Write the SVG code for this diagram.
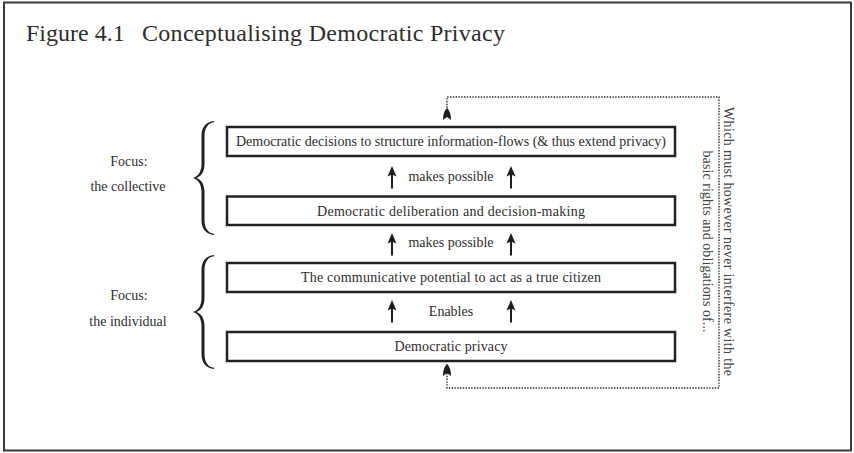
<svg xmlns="http://www.w3.org/2000/svg" xmlns:xlink="http://www.w3.org/1999/xlink" width="854" height="453" viewBox="0 0 854 453">
  <style>
    .frame { fill: #ffffff; stroke: #3a3a3a; stroke-width: 2; }
    .box { fill: #ffffff; stroke: #222222; stroke-width: 2.5; }
    .txt { font-family: "Liberation Serif", "Times New Roman", serif; fill: #2e2e2e; font-size: 14px; }
    .ctr { text-anchor: middle; }
    .title { font-family: "Liberation Serif", "Times New Roman", serif; fill: #2e2e2e; font-size: 24px; }
    .side { font-family: "Liberation Serif", "Times New Roman", serif; fill: #444444; font-size: 14px; text-anchor: middle; }
    .dotted { fill: none; stroke: #2a2a2a; stroke-width: 1.4; stroke-dasharray: 1.4 1.4; }
    .brace { fill: #222222; }
    .head { fill: #1e1e1e; }
    .shaft { stroke: #1e1e1e; stroke-width: 2; }
  </style>
  <defs>
    <!-- curly brace, opening left, spanning 121..235 -->
    <path id="brace" d="M214,121 C206,122 201.5,127 201.5,136 L201.5,164 C201.5,172 198,176.5 193,178 C198,179.5 201.5,184 201.5,192 L201.5,220 C201.5,229 206,234 214,235 L214,233.8 C208,233 204.5,228 204.5,220 L204.5,192 C204.5,184 201,179.5 196.5,178 C201,176.5 204.5,172 204.5,164 L204.5,136 C204.5,128 208,123 214,122.2 Z"/>
    <!-- solid upward arrow, tip at origin -->
    <g id="up">
      <line class="shaft" x1="0" y1="8" x2="0" y2="22.5"/>
      <path class="head" d="M0,0 L4.5,10.5 L0,8.5 L-4.5,10.5 Z"/>
    </g>
    <marker id="spire" viewBox="0 0 12 8" refX="12" refY="4" markerWidth="12" markerHeight="8" markerUnits="userSpaceOnUse" orient="auto">
      <path d="M12,4 C10,1.5 6,0 0,0 L3,4 L0,8 C6,8 10,6.5 12,4 Z" fill="#1e1e1e"/>
    </marker>
  </defs>

  <rect class="frame" x="4" y="2.5" width="847" height="448"/>

  <text class="title" x="26" y="41">Figure 4.1</text>
  <text class="title" x="142" y="41" textLength="363">Conceptualising Democratic Privacy</text>

  <!-- side groupings -->
  <g id="collective">
    <use xlink:href="#brace" href="#brace" class="brace"/>
    <text class="txt ctr" x="129" y="166">Focus:</text>
    <text class="txt ctr" x="128" y="191">the collective</text>
  </g>
  <g id="individual">
    <use xlink:href="#brace" href="#brace" class="brace" transform="translate(0,134)"/>
    <text class="txt ctr" x="129" y="300">Focus:</text>
    <text class="txt ctr" x="128" y="326">the individual</text>
  </g>

  <!-- stacked nodes -->
  <g id="decisions">
    <rect class="box" x="227" y="127" width="448" height="29"/>
    <text class="txt ctr" x="451" y="146" textLength="430">Democratic decisions to structure information-flows (&amp; thus extend privacy)</text>
  </g>
  <g id="deliberation">
    <rect class="box" x="227" y="196.5" width="448" height="28.5"/>
    <text class="txt ctr" x="451" y="215.5" textLength="268">Democratic deliberation and decision-making</text>
  </g>
  <g id="potential">
    <rect class="box" x="227" y="263" width="448" height="29"/>
    <text class="txt ctr" x="451" y="282" textLength="300">The communicative potential to act as a true citizen</text>
  </g>
  <g id="privacy">
    <rect class="box" x="227" y="332" width="448" height="29"/>
    <text class="txt ctr" x="451" y="350.5" textLength="113">Democratic privacy</text>
  </g>

  <!-- connectors -->
  <g id="connectors">
    <use xlink:href="#up" href="#up" x="392" y="166"/>
    <use xlink:href="#up" href="#up" x="511" y="166"/>
    <text class="txt ctr" x="451" y="180.5">makes possible</text>

    <use xlink:href="#up" href="#up" x="392" y="233"/>
    <use xlink:href="#up" href="#up" x="511" y="233"/>
    <text class="txt ctr" x="451" y="246.5">makes possible</text>

    <use xlink:href="#up" href="#up" x="392" y="300"/>
    <use xlink:href="#up" href="#up" x="511" y="300"/>
    <text class="txt ctr" x="451" y="316">Enables</text>

    <path class="dotted" d="M447,108 V97 H719 V388 H447 V364" marker-start="url(#spire)" marker-end="url(#spire)"/>
    <g transform="translate(723.5,241.5) rotate(90)">
      <text class="side" x="0" y="0" textLength="269">Which must however never interfere with the</text>
      <text class="side" x="0" y="20.5" textLength="182">basic rights and obligations of...</text>
    </g>
  </g>
</svg>
